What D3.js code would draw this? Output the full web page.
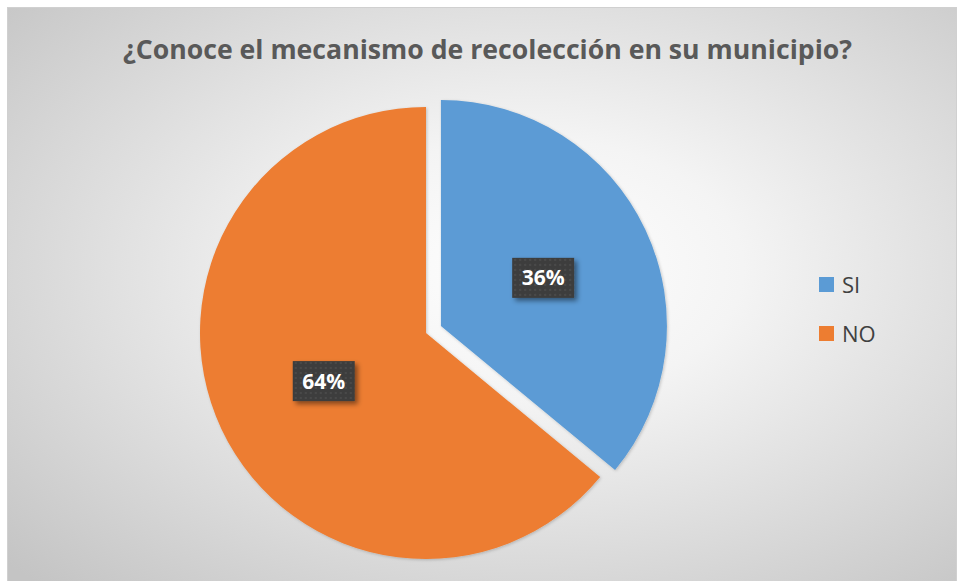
<!DOCTYPE html>
<html>
<head>
<meta charset="utf-8">
<script src="https://cdn.jsdelivr.net/npm/d3@7"></script>
<style>
  body { margin: 0; background: #fff; }
  svg { display: block; }
</style>
</head>
<body>
<svg width="958" height="581"></svg>
<script>
// data
var categories = ["SI", "NO"];
var values = [36, 64];
var labels = ["36%", "64%"];
var colors = ["#5B9BD5", "#ED7D31"];
var titleText = "¿Conoce el mecanismo de recolección en su municipio?";

var svg = d3.select("svg"),
  width = +svg.attr("width"),
  height = +svg.attr("height");

var defs = svg.append("defs");

// background gradient
var grad = defs.append("radialGradient")
  .attr("id", "bg")
  .attr("cx", "55%").attr("cy", "45%").attr("r", "75%");
grad.append("stop").attr("offset", "0%").attr("stop-color", "#ffffff");
grad.append("stop").attr("offset", "30%").attr("stop-color", "#f4f4f4");
grad.append("stop").attr("offset", "100%").attr("stop-color", "#c4c4c4");

// dotted pattern for data labels
var pat = defs.append("pattern")
  .attr("id", "dots")
  .attr("patternUnits", "userSpaceOnUse")
  .attr("width", 5).attr("height", 5);
pat.append("rect").attr("width", 5).attr("height", 5).attr("fill", "#3d3d3d");
pat.append("rect").attr("x", 1).attr("y", 1).attr("width", 2).attr("height", 2).attr("fill", "#4a4a4a");

var shadow = defs.append("filter").attr("id", "shadow")
  .attr("x", "-20%").attr("y", "-20%").attr("width", "150%").attr("height", "160%");
shadow.append("feDropShadow")
  .attr("dx", 3).attr("dy", 3).attr("stdDeviation", 2.5)
  .attr("flood-color", "#000").attr("flood-opacity", 0.45);

var sliceShadow = defs.append("filter").attr("id", "sshadow")
  .attr("x", "-10%").attr("y", "-10%").attr("width", "120%").attr("height", "120%");
sliceShadow.append("feDropShadow")
  .attr("dx", 1).attr("dy", 1).attr("stdDeviation", 1.5)
  .attr("flood-color", "#000").attr("flood-opacity", 0.2);

// chart area
svg.append("rect")
  .attr("x", 7.5).attr("y", 7.5)
  .attr("width", 949).attr("height", 580)
  .attr("fill", "url(#bg)")
  .attr("stroke", "#d0d0d0");

// title (condensed to match the original's narrow face)
svg.append("text")
  .attr("x", 123).attr("y", 59)
  .attr("textLength", 729)
  .attr("lengthAdjust", "spacingAndGlyphs")
  .style("font-family", "'Open Sans', sans-serif")
  .style("font-weight", "bold")
  .style("font-size", "27px")
  .attr("fill", "#595959")
  .text(titleText);

// pie
var cx = 426, cy = 333, r = 226, explode = 16.5;

var pie = d3.pie().sort(null).value(function (d) { return d; });
var arc = d3.arc().innerRadius(0).outerRadius(r);
var arcs = pie(values);

var g = svg.append("g").attr("transform", "translate(" + cx + "," + cy + ")");

var slices = g.selectAll("g.slice")
  .data(arcs)
  .enter().append("g")
  .attr("class", "slice")
  .attr("transform", function (d, i) {
    if (i !== 0) return null;
    var a = (d.startAngle + d.endAngle) / 2;
    return "translate(" + (Math.sin(a) * explode) + "," + (-Math.cos(a) * explode) + ")";
  });

slices.append("path")
  .attr("d", arc)
  .attr("fill", function (d, i) { return colors[i]; })
  .attr("filter", "url(#sshadow)");

// data labels
var labelArc = d3.arc().innerRadius(r * 0.5).outerRadius(r * 0.5);
slices.each(function (d, i) {
  var c = labelArc.centroid(d);
  var lg = d3.select(this).append("g")
    .attr("transform", "translate(" + c[0] + "," + c[1] + ")");
  var bw = 62, bh = 40;
  lg.append("rect")
    .attr("x", -bw / 2).attr("y", -bh / 2)
    .attr("width", bw).attr("height", bh)
    .attr("fill", "url(#dots)")
    .attr("filter", "url(#shadow)");
  lg.append("text")
    .attr("text-anchor", "middle")
    .attr("dy", "0.36em")
    .style("font-family", "'Open Sans', sans-serif")
    .style("font-weight", "bold")
    .style("font-size", "21px")
    .attr("fill", "#ffffff")
    .text(labels[i]);
});

// legend
var legend = svg.append("g").attr("transform", "translate(819,277)");
var items = legend.selectAll("g")
  .data(categories)
  .enter().append("g")
  .attr("transform", function (d, i) { return "translate(0," + (i * 49) + ")"; });
items.append("rect")
  .attr("width", 15).attr("height", 15)
  .attr("fill", function (d, i) { return colors[i]; });
items.append("text")
  .attr("x", 23).attr("y", 16)
  .style("font-family", "'Open Sans', sans-serif")
  .style("font-size", "22px")
  .attr("fill", "#404040")
  .text(function (d) { return d; });
</script>
</body>
</html>
